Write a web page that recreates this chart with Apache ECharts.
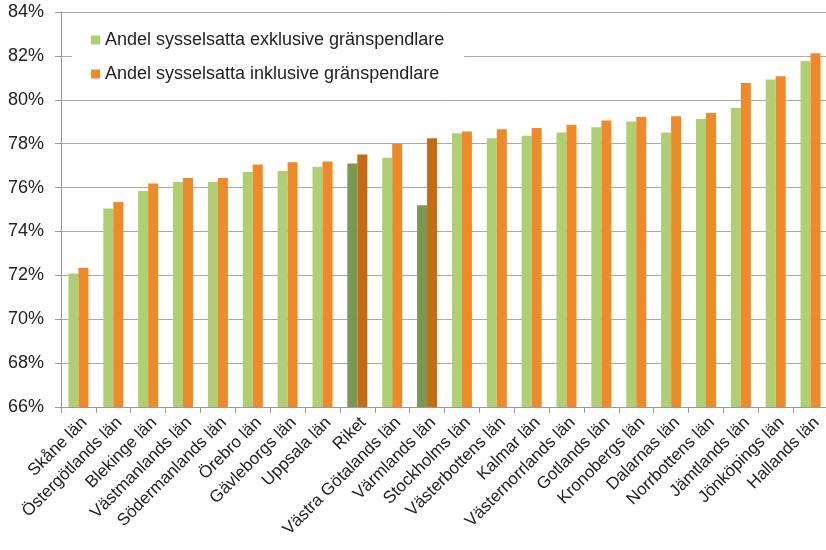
<!DOCTYPE html>
<html>
<head>
<meta charset="utf-8">
<script src="https://cdn.jsdelivr.net/npm/echarts@6/dist/echarts.min.js"></script>
<style>
html,body{margin:0;padding:0;overflow:hidden;background:#fff;width:826px;height:550px;}
#c{width:830px;height:550px;}
</style>
</head>
<body>
<div id="c"></div>
<script>
var categories = ["Skåne län","Östergötlands län","Blekinge län","Västmanlands län","Södermanlands län","Örebro län","Gävleborgs län","Uppsala län","Riket","Västra Götalands län","Värmlands län","Stockholms län","Västerbottens län","Kalmar län","Västernorrlands län","Gotlands län","Kronobergs län","Dalarnas län","Norrbottens län","Jämtlands län","Jönköpings län","Hallands län"];
var exklusive = [72.08,75.04,75.84,76.25,76.25,76.71,76.75,76.95,77.10,77.36,75.19,78.47,78.25,78.36,78.51,78.75,79.01,78.51,79.12,79.62,80.92,81.77];
var inklusive = [72.34,75.34,76.19,76.43,76.43,77.05,77.15,77.19,77.51,78.00,78.25,78.56,78.66,78.71,78.86,79.06,79.21,79.25,79.40,80.77,81.07,82.12];
var highlighted = ["Riket","Värmlands län"];
var seriesNames = ["Andel sysselsatta exklusive gränspendlare","Andel sysselsatta inklusive gränspendlare"];
var yTicks = [66,68,70,72,74,76,78,80,82,84];

var green = '#b0cf72', orange = '#ee8a29', darkGreen = '#7b9852', darkOrange = '#c56b13';
function build(vals, base, dark){
  return vals.map(function(v,i){
    return highlighted.indexOf(categories[i]) >= 0 ? {value:v, itemStyle:{color:dark}} : {value:v, itemStyle:{color:base}};
  });
}
var chart = echarts.init(document.getElementById('c'), null, {renderer:'canvas'});
var font = '"Liberation Sans", Arial, sans-serif';
chart.setOption({
  animation:false,
  textStyle:{fontFamily:font},
  grid:{left:61, right:2, top:12, bottom:143, containLabel:false},
  legend:{
    orient:'vertical', left:72, top:26,
    padding:[5,20,7,19],
    backgroundColor:'#fff',
    itemWidth:9, itemHeight:9, itemGap:16,
    icon:'rect',
    textStyle:{fontSize:18, color:'#222', fontFamily:font, lineHeight:18},
    data:[{name:seriesNames[0], itemStyle:{color:green}},{name:seriesNames[1], itemStyle:{color:orange}}]
  },
  xAxis:{
    type:'category', data:categories,
    axisLine:{lineStyle:{color:'#999', width:1}},
    axisTick:{show:true, length:6, lineStyle:{color:'#999'}},
    axisLabel:{rotate:45, fontSize:17, color:'#222', margin:7, interval:0, fontFamily:font, verticalAlign:'top'}
  },
  yAxis:{
    type:'value', min:yTicks[0], max:yTicks[yTicks.length-1], interval:2,
    axisLine:{show:true, lineStyle:{color:'#999'}},
    axisTick:{show:true, length:6, lineStyle:{color:'#999'}},
    splitLine:{lineStyle:{color:'#aaa', width:1}},
    axisLabel:{formatter:'{value}%', fontSize:18, color:'#222', margin:17, fontFamily:font}
  },
  series:[
    {name:seriesNames[0], type:'bar', data:build(exklusive, green, darkGreen), barWidth:10, barGap:'0%', z:2},
    {name:seriesNames[1], type:'bar', data:build(inklusive, orange, darkOrange), barWidth:10, barGap:'0%', z:2}
  ]
});
</script>
</body>
</html>
